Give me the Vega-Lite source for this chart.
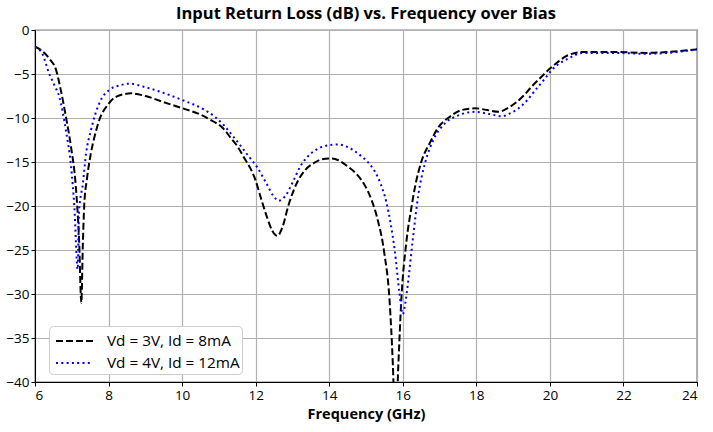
{
  "$schema": "https://vega.github.io/schema/vega-lite/v6.json",
  "width": 662,
  "height": 352,
  "autosize": {"type": "none"},
  "padding": {"left": 35, "top": 30, "right": 16, "bottom": 50},
  "background": "white",
  "config": {
    "font": "Open Sans",
    "view": {"stroke": "black", "strokeWidth": 1.2},
    "axis": {
      "domainColor": "black",
      "tickColor": "black",
      "gridColor": "#b0b0b0",
      "gridWidth": 1.2,
      "labelFontSize": 13.5,
      "labelColor": "black",
      "titleColor": "black",
      "labelFont": "Open Sans",
      "titleFont": "Open Sans"
    }
  },
  "title": {
    "text": "Input Return Loss (dB) vs. Frequency over Bias",
    "fontSize": 16.5,
    "fontWeight": "bold",
    "font": "Open Sans",
    "color": "black",
    "anchor": "middle",
    "offset": 1
  },
  "data": {
    "values": [
      {"f": 6.0, "db": -1.9, "s": "Vd = 3V, Id = 8mA"},
      {"f": 6.2, "db": -2.4, "s": "Vd = 3V, Id = 8mA"},
      {"f": 6.4, "db": -3.3, "s": "Vd = 3V, Id = 8mA"},
      {"f": 6.57, "db": -4.5, "s": "Vd = 3V, Id = 8mA"},
      {"f": 6.7, "db": -6.8, "s": "Vd = 3V, Id = 8mA"},
      {"f": 6.84, "db": -9.85, "s": "Vd = 3V, Id = 8mA"},
      {"f": 6.98, "db": -13.3, "s": "Vd = 3V, Id = 8mA"},
      {"f": 7.11, "db": -17.8, "s": "Vd = 3V, Id = 8mA"},
      {"f": 7.2, "db": -24.0, "s": "Vd = 3V, Id = 8mA"},
      {"f": 7.26, "db": -31.0, "s": "Vd = 3V, Id = 8mA"},
      {"f": 7.3, "db": -24.5, "s": "Vd = 3V, Id = 8mA"},
      {"f": 7.34, "db": -19.8, "s": "Vd = 3V, Id = 8mA"},
      {"f": 7.41, "db": -17.0, "s": "Vd = 3V, Id = 8mA"},
      {"f": 7.52, "db": -14.0, "s": "Vd = 3V, Id = 8mA"},
      {"f": 7.62, "db": -12.1, "s": "Vd = 3V, Id = 8mA"},
      {"f": 7.75, "db": -10.2, "s": "Vd = 3V, Id = 8mA"},
      {"f": 7.98, "db": -8.5, "s": "Vd = 3V, Id = 8mA"},
      {"f": 8.2, "db": -7.6, "s": "Vd = 3V, Id = 8mA"},
      {"f": 8.62, "db": -7.2, "s": "Vd = 3V, Id = 8mA"},
      {"f": 9.0, "db": -7.5, "s": "Vd = 3V, Id = 8mA"},
      {"f": 9.5, "db": -8.2, "s": "Vd = 3V, Id = 8mA"},
      {"f": 9.94, "db": -8.8, "s": "Vd = 3V, Id = 8mA"},
      {"f": 10.49, "db": -9.6, "s": "Vd = 3V, Id = 8mA"},
      {"f": 10.85, "db": -10.4, "s": "Vd = 3V, Id = 8mA"},
      {"f": 11.1, "db": -11.1, "s": "Vd = 3V, Id = 8mA"},
      {"f": 11.31, "db": -12.2, "s": "Vd = 3V, Id = 8mA"},
      {"f": 11.5, "db": -13.2, "s": "Vd = 3V, Id = 8mA"},
      {"f": 11.67, "db": -14.4, "s": "Vd = 3V, Id = 8mA"},
      {"f": 11.99, "db": -17.0, "s": "Vd = 3V, Id = 8mA"},
      {"f": 12.15, "db": -19.2, "s": "Vd = 3V, Id = 8mA"},
      {"f": 12.31, "db": -21.3, "s": "Vd = 3V, Id = 8mA"},
      {"f": 12.45, "db": -22.8, "s": "Vd = 3V, Id = 8mA"},
      {"f": 12.59, "db": -23.4, "s": "Vd = 3V, Id = 8mA"},
      {"f": 12.72, "db": -22.5, "s": "Vd = 3V, Id = 8mA"},
      {"f": 12.9, "db": -19.8, "s": "Vd = 3V, Id = 8mA"},
      {"f": 13.13, "db": -17.3, "s": "Vd = 3V, Id = 8mA"},
      {"f": 13.35, "db": -15.9, "s": "Vd = 3V, Id = 8mA"},
      {"f": 13.59, "db": -15.1, "s": "Vd = 3V, Id = 8mA"},
      {"f": 13.8, "db": -14.7, "s": "Vd = 3V, Id = 8mA"},
      {"f": 14.04, "db": -14.6, "s": "Vd = 3V, Id = 8mA"},
      {"f": 14.25, "db": -14.8, "s": "Vd = 3V, Id = 8mA"},
      {"f": 14.5, "db": -15.5, "s": "Vd = 3V, Id = 8mA"},
      {"f": 14.75, "db": -16.4, "s": "Vd = 3V, Id = 8mA"},
      {"f": 14.96, "db": -17.6, "s": "Vd = 3V, Id = 8mA"},
      {"f": 15.15, "db": -19.3, "s": "Vd = 3V, Id = 8mA"},
      {"f": 15.32, "db": -21.6, "s": "Vd = 3V, Id = 8mA"},
      {"f": 15.5, "db": -25.4, "s": "Vd = 3V, Id = 8mA"},
      {"f": 15.64, "db": -30.7, "s": "Vd = 3V, Id = 8mA"},
      {"f": 15.73, "db": -38.0, "s": "Vd = 3V, Id = 8mA"},
      {"f": 15.8, "db": -46.0, "s": "Vd = 3V, Id = 8mA"},
      {"f": 15.88, "db": -38.0, "s": "Vd = 3V, Id = 8mA"},
      {"f": 15.96, "db": -30.7, "s": "Vd = 3V, Id = 8mA"},
      {"f": 16.1, "db": -24.0, "s": "Vd = 3V, Id = 8mA"},
      {"f": 16.23, "db": -20.3, "s": "Vd = 3V, Id = 8mA"},
      {"f": 16.33, "db": -17.9, "s": "Vd = 3V, Id = 8mA"},
      {"f": 16.51, "db": -14.9, "s": "Vd = 3V, Id = 8mA"},
      {"f": 16.74, "db": -12.8, "s": "Vd = 3V, Id = 8mA"},
      {"f": 16.96, "db": -11.1, "s": "Vd = 3V, Id = 8mA"},
      {"f": 17.28, "db": -9.85, "s": "Vd = 3V, Id = 8mA"},
      {"f": 17.6, "db": -9.1, "s": "Vd = 3V, Id = 8mA"},
      {"f": 17.97, "db": -8.9, "s": "Vd = 3V, Id = 8mA"},
      {"f": 18.3, "db": -9.1, "s": "Vd = 3V, Id = 8mA"},
      {"f": 18.6, "db": -9.3, "s": "Vd = 3V, Id = 8mA"},
      {"f": 18.8, "db": -9.0, "s": "Vd = 3V, Id = 8mA"},
      {"f": 19.06, "db": -8.3, "s": "Vd = 3V, Id = 8mA"},
      {"f": 19.3, "db": -7.4, "s": "Vd = 3V, Id = 8mA"},
      {"f": 19.51, "db": -6.4, "s": "Vd = 3V, Id = 8mA"},
      {"f": 19.75, "db": -5.4, "s": "Vd = 3V, Id = 8mA"},
      {"f": 19.97, "db": -4.5, "s": "Vd = 3V, Id = 8mA"},
      {"f": 20.2, "db": -3.7, "s": "Vd = 3V, Id = 8mA"},
      {"f": 20.43, "db": -3.0, "s": "Vd = 3V, Id = 8mA"},
      {"f": 20.89, "db": -2.5, "s": "Vd = 3V, Id = 8mA"},
      {"f": 21.71, "db": -2.5, "s": "Vd = 3V, Id = 8mA"},
      {"f": 22.62, "db": -2.6, "s": "Vd = 3V, Id = 8mA"},
      {"f": 23.2, "db": -2.5, "s": "Vd = 3V, Id = 8mA"},
      {"f": 24.0, "db": -2.2, "s": "Vd = 3V, Id = 8mA"},
      {"f": 6.0, "db": -1.9, "s": "Vd = 4V, Id = 12mA"},
      {"f": 6.2, "db": -2.7, "s": "Vd = 4V, Id = 12mA"},
      {"f": 6.38, "db": -4.9, "s": "Vd = 4V, Id = 12mA"},
      {"f": 6.52, "db": -6.2, "s": "Vd = 4V, Id = 12mA"},
      {"f": 6.66, "db": -7.6, "s": "Vd = 4V, Id = 12mA"},
      {"f": 6.84, "db": -11.4, "s": "Vd = 4V, Id = 12mA"},
      {"f": 6.98, "db": -15.5, "s": "Vd = 4V, Id = 12mA"},
      {"f": 7.07, "db": -20.1, "s": "Vd = 4V, Id = 12mA"},
      {"f": 7.16, "db": -27.2, "s": "Vd = 4V, Id = 12mA"},
      {"f": 7.2, "db": -20.5, "s": "Vd = 4V, Id = 12mA"},
      {"f": 7.3, "db": -17.5, "s": "Vd = 4V, Id = 12mA"},
      {"f": 7.39, "db": -14.0, "s": "Vd = 4V, Id = 12mA"},
      {"f": 7.52, "db": -11.4, "s": "Vd = 4V, Id = 12mA"},
      {"f": 7.75, "db": -8.3, "s": "Vd = 4V, Id = 12mA"},
      {"f": 8.02, "db": -6.8, "s": "Vd = 4V, Id = 12mA"},
      {"f": 8.3, "db": -6.3, "s": "Vd = 4V, Id = 12mA"},
      {"f": 8.57, "db": -6.1, "s": "Vd = 4V, Id = 12mA"},
      {"f": 9.0, "db": -6.5, "s": "Vd = 4V, Id = 12mA"},
      {"f": 9.39, "db": -7.0, "s": "Vd = 4V, Id = 12mA"},
      {"f": 10.03, "db": -8.0, "s": "Vd = 4V, Id = 12mA"},
      {"f": 10.58, "db": -9.0, "s": "Vd = 4V, Id = 12mA"},
      {"f": 10.9, "db": -9.9, "s": "Vd = 4V, Id = 12mA"},
      {"f": 11.13, "db": -10.8, "s": "Vd = 4V, Id = 12mA"},
      {"f": 11.35, "db": -11.9, "s": "Vd = 4V, Id = 12mA"},
      {"f": 11.58, "db": -13.1, "s": "Vd = 4V, Id = 12mA"},
      {"f": 11.8, "db": -14.3, "s": "Vd = 4V, Id = 12mA"},
      {"f": 12.04, "db": -15.6, "s": "Vd = 4V, Id = 12mA"},
      {"f": 12.3, "db": -17.5, "s": "Vd = 4V, Id = 12mA"},
      {"f": 12.49, "db": -18.9, "s": "Vd = 4V, Id = 12mA"},
      {"f": 12.63, "db": -19.4, "s": "Vd = 4V, Id = 12mA"},
      {"f": 12.8, "db": -18.9, "s": "Vd = 4V, Id = 12mA"},
      {"f": 13.04, "db": -17.0, "s": "Vd = 4V, Id = 12mA"},
      {"f": 13.2, "db": -15.6, "s": "Vd = 4V, Id = 12mA"},
      {"f": 13.41, "db": -14.4, "s": "Vd = 4V, Id = 12mA"},
      {"f": 13.65, "db": -13.6, "s": "Vd = 4V, Id = 12mA"},
      {"f": 13.86, "db": -13.2, "s": "Vd = 4V, Id = 12mA"},
      {"f": 14.23, "db": -13.0, "s": "Vd = 4V, Id = 12mA"},
      {"f": 14.5, "db": -13.3, "s": "Vd = 4V, Id = 12mA"},
      {"f": 14.77, "db": -14.0, "s": "Vd = 4V, Id = 12mA"},
      {"f": 15.0, "db": -14.8, "s": "Vd = 4V, Id = 12mA"},
      {"f": 15.23, "db": -16.0, "s": "Vd = 4V, Id = 12mA"},
      {"f": 15.4, "db": -17.5, "s": "Vd = 4V, Id = 12mA"},
      {"f": 15.55, "db": -19.5, "s": "Vd = 4V, Id = 12mA"},
      {"f": 15.67, "db": -22.0, "s": "Vd = 4V, Id = 12mA"},
      {"f": 15.78, "db": -25.0, "s": "Vd = 4V, Id = 12mA"},
      {"f": 15.91, "db": -29.9, "s": "Vd = 4V, Id = 12mA"},
      {"f": 16.0, "db": -32.3, "s": "Vd = 4V, Id = 12mA"},
      {"f": 16.07, "db": -31.0, "s": "Vd = 4V, Id = 12mA"},
      {"f": 16.14, "db": -28.8, "s": "Vd = 4V, Id = 12mA"},
      {"f": 16.27, "db": -23.9, "s": "Vd = 4V, Id = 12mA"},
      {"f": 16.42, "db": -18.8, "s": "Vd = 4V, Id = 12mA"},
      {"f": 16.6, "db": -15.2, "s": "Vd = 4V, Id = 12mA"},
      {"f": 16.83, "db": -12.5, "s": "Vd = 4V, Id = 12mA"},
      {"f": 17.15, "db": -10.6, "s": "Vd = 4V, Id = 12mA"},
      {"f": 17.51, "db": -9.7, "s": "Vd = 4V, Id = 12mA"},
      {"f": 17.97, "db": -9.3, "s": "Vd = 4V, Id = 12mA"},
      {"f": 18.3, "db": -9.5, "s": "Vd = 4V, Id = 12mA"},
      {"f": 18.7, "db": -9.8, "s": "Vd = 4V, Id = 12mA"},
      {"f": 18.9, "db": -9.5, "s": "Vd = 4V, Id = 12mA"},
      {"f": 19.15, "db": -8.9, "s": "Vd = 4V, Id = 12mA"},
      {"f": 19.4, "db": -7.9, "s": "Vd = 4V, Id = 12mA"},
      {"f": 19.61, "db": -6.8, "s": "Vd = 4V, Id = 12mA"},
      {"f": 19.85, "db": -5.6, "s": "Vd = 4V, Id = 12mA"},
      {"f": 20.06, "db": -4.5, "s": "Vd = 4V, Id = 12mA"},
      {"f": 20.3, "db": -3.7, "s": "Vd = 4V, Id = 12mA"},
      {"f": 20.52, "db": -3.2, "s": "Vd = 4V, Id = 12mA"},
      {"f": 20.9, "db": -2.6, "s": "Vd = 4V, Id = 12mA"},
      {"f": 21.7, "db": -2.6, "s": "Vd = 4V, Id = 12mA"},
      {"f": 22.6, "db": -2.7, "s": "Vd = 4V, Id = 12mA"},
      {"f": 23.2, "db": -2.6, "s": "Vd = 4V, Id = 12mA"},
      {"f": 24.0, "db": -2.2, "s": "Vd = 4V, Id = 12mA"}
    ]
  },
  "mark": {"type": "line", "strokeWidth": 2, "interpolate": "monotone", "clip": true},
  "encoding": {
    "x": {
      "field": "f",
      "type": "quantitative",
      "scale": {"domain": [6, 24], "nice": false, "zero": false},
      "axis": {
        "values": [6, 8, 10, 12, 14, 16, 18, 20, 22, 24],
        "title": "Frequency (GHz)",
        "titleFontSize": 14.5,
        "titleFontWeight": "bold",
        "titlePadding": 6,
        "labelPadding": 2,
        "tickSize": 4
      }
    },
    "y": {
      "field": "db",
      "type": "quantitative",
      "scale": {"domain": [-40, 0], "nice": false, "zero": false},
      "axis": {
        "values": [0, -5, -10, -15, -20, -25, -30, -35, -40],
        "title": null,
        "labelExpr": "replace(datum.label, '-', '−')",
        "labelPadding": 2,
        "tickSize": 4
      }
    },
    "color": {
      "field": "s",
      "type": "nominal",
      "scale": {"domain": ["Vd = 3V, Id = 8mA", "Vd = 4V, Id = 12mA"], "range": ["black", "#0000ff"]},
      "legend": {
        "orient": "none",
        "legendX": 14,
        "legendY": 296,
        "title": null,
        "symbolType": "M-0.667,0H2.417",
        "symbolSize": 576,
        "symbolStrokeWidth": 2,
        "labelFontSize": 15.3,
        "labelColor": "black",
        "labelFont": "Open Sans",
        "strokeColor": "#cccccc",
        "fillColor": "white",
        "cornerRadius": 4,
        "padding": 2,
        "rowPadding": -2,
        "labelOffset": 30
      }
    },
    "strokeDash": {
      "field": "s",
      "type": "nominal",
      "scale": {"domain": ["Vd = 3V, Id = 8mA", "Vd = 4V, Id = 12mA"], "range": [[7, 3], [2, 3.3]]},
      "legend": null
    }
  }
}
